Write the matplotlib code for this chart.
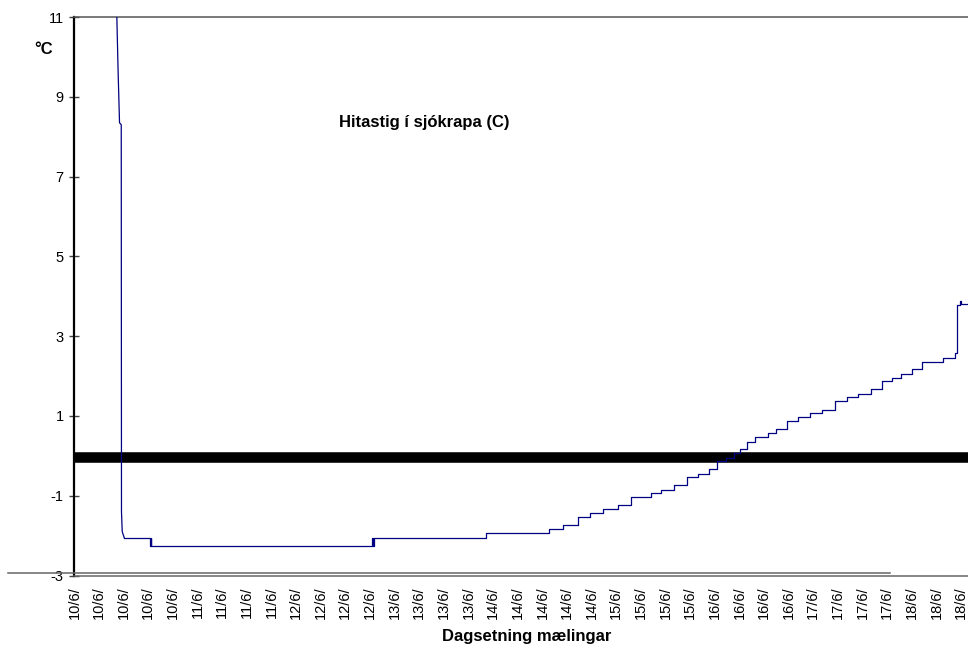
import matplotlib
matplotlib.use("Agg")
import matplotlib.pyplot as plt
from matplotlib.lines import Line2D

plt.rcParams['font.family'] = ['Liberation Sans', 'DejaVu Sans']

# tick labels along the x axis (one per label step)
day_labels = (['10/6/'] * 5 + ['11/6/'] * 4 + ['12/6/'] * 4 + ['13/6/'] * 4 +
              ['14/6/'] * 5 + ['15/6/'] * 4 + ['16/6/'] * 4 + ['17/6/'] * 4 +
              ['18/6/'] * 3)

# temperature readings, x given in label steps
t_pos = [1.71, 1.77, 1.83, 1.90, 1.91, 1.94, 2.02, 3.05, 3.09, 3.12,
         12.10, 12.14, 12.18, 16.73, 19.25, 19.82, 20.43, 20.92, 21.45, 22.06,
         22.59, 23.40, 23.83, 24.33, 24.86, 25.33, 25.76, 26.10, 26.44, 26.77,
         27.01, 27.32, 27.62, 28.17, 28.50, 28.92, 29.38, 29.85, 30.37, 30.90,
         31.38, 31.82, 32.33, 32.77, 33.20, 33.55, 34.01, 34.40, 35.27, 35.75,
         35.84, 35.95, 36.00, 36.40]
temp = [11.3, 9.7, 8.35, 8.3, -1.4, -1.9, -2.05, -2.25, -2.05, -2.25,
        -2.06, -2.25, -2.06, -1.94, -1.84, -1.74, -1.54, -1.43, -1.34, -1.24,
        -1.03, -0.92, -0.85, -0.73, -0.53, -0.45, -0.34, -0.13, -0.06, 0.07,
        0.16, 0.35, 0.47, 0.57, 0.68, 0.87, 0.97, 1.07, 1.16, 1.37,
        1.47, 1.55, 1.67, 1.88, 1.95, 2.06, 2.18, 2.36, 2.46, 2.58,
        3.77, 3.88, 3.80, 3.80]

freeze_level = 0.0
y_ticks = [11, 9, 7, 5, 3, 1, -1, -3]

fig = plt.figure(figsize=(9.68, 6.5), dpi=100)
ax = fig.add_axes([0.0764, 0.1146, 0.9236, 0.8592])

ax.axhline(freeze_level - 0.03, color='black', lw=7.6, zorder=2)
# fast cooling at the start is drawn as a plain line, the rest as steps
ax.plot(t_pos[:7], temp[:7], color='#000080', lw=0.9, zorder=3)
ax.plot(t_pos[6:], temp[6:], drawstyle='steps-post', color='#000080', lw=0.9, zorder=3)

ax.set_xlim(-0.02, 36.28)
ax.set_ylim(-3, 11)
ax.set_yticks(y_ticks)
ax.set_yticklabels([str(v) for v in y_ticks], fontsize=10.5)
ax.set_xticks(range(len(day_labels)))
ax.set_xticklabels(day_labels, rotation=90, fontsize=10.5, va='top')
ax.tick_params(axis='x', length=0, pad=8)
ax.tick_params(axis='y', direction='inout', length=7, width=1, color='#444444', pad=4)

ax.spines['right'].set_visible(False)
ax.spines['left'].set_color('black')
ax.spines['left'].set_linewidth(1.6)
ax.spines['top'].set_color('#555555')
ax.spines['top'].set_linewidth(1.1)
ax.spines['bottom'].set_color('#666666')
ax.spines['bottom'].set_linewidth(1.1)

# second gray rule just above the bottom axis
fig.add_artist(Line2D([8 / 968, 890 / 968], [1 - 573 / 650] * 2,
                      color='#666666', lw=1.1))

fig.text(44 / 968, 1 - 49 / 650, '°C', fontsize=12, fontweight='bold',
         ha='center', va='center')
fig.text(424 / 968, 1 - 122 / 650, 'Hitastig í sjókrapa (C)', fontsize=12,
         fontweight='bold', ha='center', va='center')
fig.text(527 / 968, 1 - 636 / 650, 'Dagsetning mælingar', fontsize=12,
         fontweight='bold', ha='center', va='center')

fig.savefig('out.png', dpi=100)
